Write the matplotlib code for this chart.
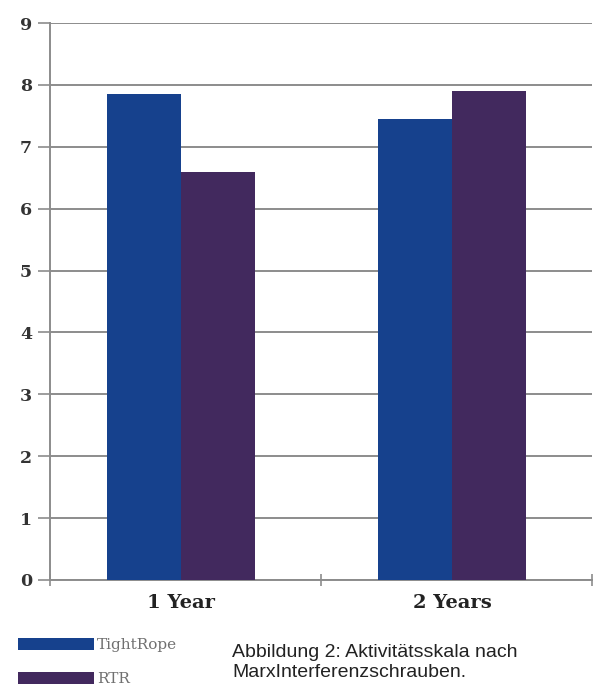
import matplotlib.pyplot as plt
import numpy as np

categories = ['1 Year', '2 Years']
tightrope = [7.85, 7.45]
rtr = [6.6, 7.9]
series_names = ['TightRope', 'RTR']
caption = 'Abbildung 2: Aktivitätsskala nach\nMarxInterferenzschrauben.'

blue = '#16418d'
purple = '#42295e'
grey = '#8c8c8c'

fig = plt.figure(figsize=(6.03, 6.86), dpi=100)
ax = fig.add_axes([50/603, 106/686, 542/603, 557/686])

x = np.arange(len(categories))
w = 0.272
ax.bar(x - w/2, tightrope, w, color=blue, label=series_names[0], zorder=3)
ax.bar(x + w/2, rtr, w, color=purple, label=series_names[1], zorder=3)

# groups sit a little left of the category centre
ax.set_xlim(-0.483, 1.517)
ax.set_ylim(0, 9)
ax.set_yticks(range(10))
ax.yaxis.grid(True, color=grey, linewidth=1.4, zorder=0)
ax.set_xticks(x)
ax.set_xticklabels(categories, fontfamily='DejaVu Serif', fontweight='bold',
                   fontsize=14, color='#222222')
for lab in ax.get_yticklabels():
    lab.set_fontfamily('DejaVu Serif')
    lab.set_fontweight('bold')
    lab.set_fontsize(12.5)
    lab.set_color('#333333')

# minor ticks mark the category boundaries
ax.set_xticks([-0.483, 0.517, 1.517], minor=True)
ax.tick_params(axis='x', which='major', length=0, pad=10)
ax.tick_params(axis='x', which='minor', length=9, direction='inout', color=grey, width=1.2)
ax.tick_params(axis='y', length=9, width=1.2, color=grey, pad=4)

for s in ['top', 'right']:
    ax.spines[s].set_visible(False)
for s in ['left', 'bottom']:
    ax.spines[s].set_color(grey)
    ax.spines[s].set_linewidth(1.4)

fig.legend(loc='upper left', bbox_to_anchor=(18/603, 1 - 638/686), frameon=False,
           borderaxespad=0, borderpad=0,
           handlelength=5.0, handleheight=0.8, labelspacing=1.3, handletextpad=0.15,
           prop={'family': 'DejaVu Serif', 'size': 11}, labelcolor='#707070')

fig.text(232/603, 1 - 644/686, caption, fontfamily='Liberation Sans', fontsize=14,
         va='top', ha='left', color='#222222', linespacing=1.22)

fig.savefig('out.png', dpi=100)
